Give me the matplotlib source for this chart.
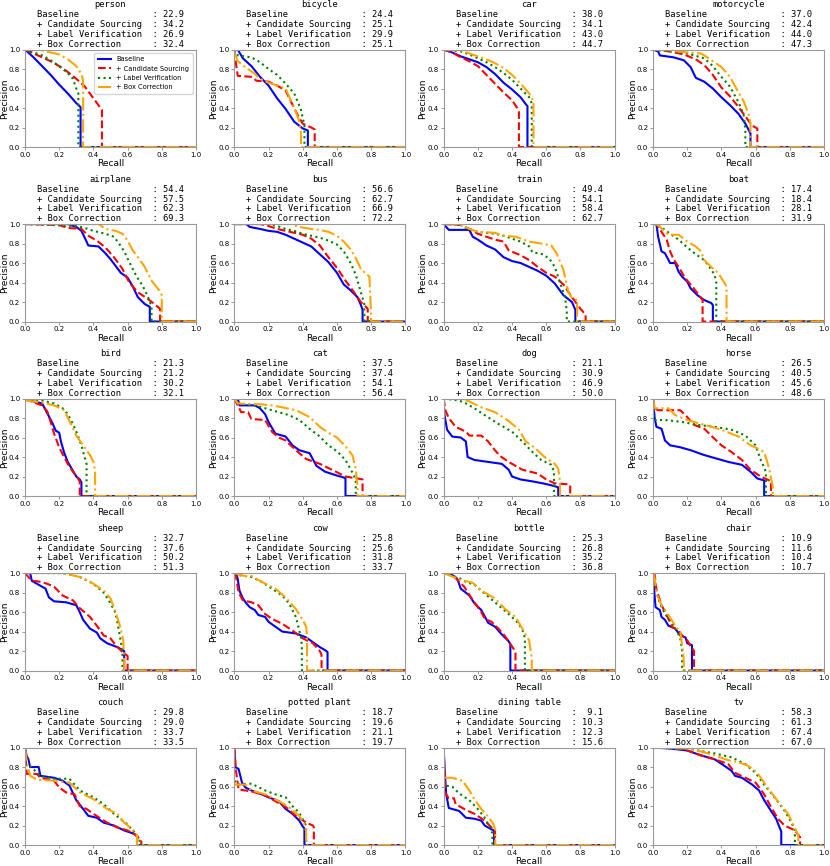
import matplotlib
matplotlib.use('Agg')
import matplotlib.pyplot as plt

# class names and AP scores
CLASSES = ['person', 'bicycle', 'car', 'motorcycle',
           'airplane', 'bus', 'train', 'boat',
           'bird', 'cat', 'dog', 'horse',
           'sheep', 'cow', 'bottle', 'chair',
           'couch', 'potted plant', 'dining table', 'tv']
METHODS = ['Baseline', '+ Candidate Sourcing', '+ Label Verification', '+ Box Correction']

AP_BASE = [22.9, 24.4, 38.0, 37.0, 54.4, 56.6, 49.4, 17.4, 21.3, 37.5,
           21.1, 26.5, 32.7, 25.8, 25.3, 10.9, 29.8, 18.7, 9.1, 58.3]
AP_CAND = [34.2, 25.1, 34.1, 42.4, 57.5, 62.7, 54.1, 18.4, 21.2, 37.4,
           30.9, 40.5, 37.6, 25.6, 26.8, 11.6, 29.0, 19.6, 10.3, 61.3]
AP_LABEL = [26.9, 29.9, 43.0, 44.0, 62.3, 66.9, 58.4, 28.1, 30.2, 54.1,
            46.9, 45.6, 50.2, 31.8, 35.2, 10.4, 33.7, 21.1, 12.3, 67.4]
AP_BOX = [32.4, 25.1, 44.7, 47.3, 69.3, 72.2, 62.7, 31.9, 32.1, 56.4,
          50.0, 48.6, 51.3, 33.7, 36.8, 10.7, 33.5, 19.7, 15.6, 67.0]

# PR curves (recall, precision), one list per class
BASE_R = [
    [0, 0.05, 0.1, 0.15, 0.2, 0.25, 0.3, 0.325],
    [0, 0.02, 0.05, 0.1, 0.15, 0.2, 0.25, 0.3, 0.35, 0.4, 0.43],
    [0, 0.05, 0.1, 0.15, 0.2, 0.25, 0.3, 0.35, 0.4, 0.45, 0.48, 0.49],
    [0, 0.03, 0.04, 0.12, 0.18, 0.22, 0.25, 0.3, 0.35, 0.4, 0.45, 0.5, 0.54, 0.57],
    [0, 0.25, 0.3, 0.33, 0.36, 0.37, 0.43, 0.47, 0.5, 0.53, 0.56, 0.6, 0.63, 0.66, 0.7, 0.73],
    [0, 0.07, 0.09, 0.15, 0.2, 0.25, 0.3, 0.35, 0.4, 0.45, 0.5, 0.55, 0.6, 0.64, 0.68, 0.72, 0.74, 0.75],
    [0, 0.03, 0.15, 0.17, 0.2, 0.25, 0.3, 0.35, 0.4, 0.45, 0.5, 0.55, 0.6, 0.65, 0.7, 0.75, 0.77],
    [0, 0.02, 0.03, 0.05, 0.07, 0.1, 0.13, 0.15, 0.17, 0.2, 0.22, 0.26, 0.3, 0.34, 0.35],
    [0, 0.05, 0.1, 0.13, 0.16, 0.18, 0.2, 0.21, 0.23, 0.25, 0.28, 0.3, 0.32, 0.33],
    [0, 0.02, 0.03, 0.12, 0.15, 0.18, 0.2, 0.24, 0.3, 0.34, 0.38, 0.44, 0.48, 0.53, 0.6, 0.64, 0.65],
    [0, 0.005, 0.02, 0.05, 0.1, 0.13, 0.14, 0.18, 0.26, 0.34, 0.38, 0.4, 0.45, 0.52, 0.58, 0.63, 0.67],
    [0, 0.01, 0.02, 0.05, 0.07, 0.1, 0.16, 0.22, 0.3, 0.36, 0.44, 0.52, 0.57, 0.61, 0.65],
    [0, 0.03, 0.04, 0.07, 0.1, 0.12, 0.14, 0.17, 0.24, 0.3, 0.32, 0.34, 0.38, 0.42, 0.44, 0.48, 0.54, 0.58],
    [0, 0.01, 0.02, 0.03, 0.05, 0.07, 0.09, 0.12, 0.14, 0.18, 0.2, 0.24, 0.28, 0.36, 0.42, 0.46, 0.5, 0.53, 0.545],
    [0, 0.05, 0.08, 0.1, 0.15, 0.18, 0.22, 0.26, 0.3, 0.34, 0.38, 0.39],
    [0, 0.005, 0.015, 0.04, 0.05, 0.07, 0.09, 0.13, 0.16, 0.19, 0.2, 0.228],
    [0, 0.01, 0.02, 0.03, 0.08, 0.09, 0.17, 0.22, 0.26, 0.3, 0.34, 0.37, 0.42, 0.46, 0.52, 0.58, 0.63, 0.655],
    [0, 0.005, 0.025, 0.045, 0.065, 0.1, 0.16, 0.2, 0.26, 0.3, 0.34, 0.38, 0.4, 0.41],
    [0, 0.005, 0.015, 0.03, 0.09, 0.13, 0.18, 0.22, 0.24, 0.28, 0.295],
    [0, 0.1, 0.2, 0.28, 0.36, 0.42, 0.46, 0.48, 0.52, 0.58, 0.62, 0.65, 0.69, 0.72, 0.74, 0.75],
]
BASE_P = [
    [1.0, 0.92, 0.83, 0.74, 0.64, 0.55, 0.45, 0.41],
    [1.0, 1.0, 0.91, 0.83, 0.72, 0.63, 0.5, 0.39, 0.26, 0.19, 0.17],
    [1.0, 0.97, 0.93, 0.9, 0.87, 0.82, 0.75, 0.66, 0.59, 0.51, 0.44, 0.42],
    [1.0, 0.98, 0.94, 0.92, 0.89, 0.82, 0.71, 0.67, 0.6, 0.51, 0.43, 0.34, 0.24, 0.14],
    [1.0, 1.0, 0.97, 0.93, 0.82, 0.78, 0.77, 0.7, 0.64, 0.57, 0.5, 0.45, 0.36, 0.25, 0.18, 0.15],
    [1.0, 1.0, 0.97, 0.95, 0.93, 0.92, 0.89, 0.85, 0.81, 0.77, 0.69, 0.61, 0.5, 0.38, 0.32, 0.25, 0.17, 0.12],
    [1.0, 0.94, 0.94, 0.87, 0.84, 0.78, 0.74, 0.66, 0.62, 0.6, 0.56, 0.52, 0.47, 0.39, 0.27, 0.2, 0.12],
    [1.0, 1.0, 0.87, 0.72, 0.7, 0.6, 0.6, 0.51, 0.46, 0.41, 0.34, 0.27, 0.22, 0.19, 0.17],
    [1.0, 0.97, 0.95, 0.85, 0.75, 0.67, 0.65, 0.56, 0.44, 0.35, 0.26, 0.2, 0.17, 0.14],
    [1.0, 1.0, 0.93, 0.93, 0.9, 0.84, 0.76, 0.64, 0.61, 0.52, 0.47, 0.44, 0.31, 0.25, 0.21, 0.19, 0.18],
    [0.97, 0.83, 0.68, 0.61, 0.6, 0.56, 0.4, 0.37, 0.35, 0.33, 0.27, 0.2, 0.17, 0.15, 0.13, 0.11, 0.09],
    [1.0, 0.8, 0.71, 0.69, 0.57, 0.52, 0.5, 0.47, 0.42, 0.39, 0.35, 0.32, 0.25, 0.18, 0.16],
    [1.0, 1.0, 0.92, 0.89, 0.86, 0.84, 0.75, 0.71, 0.7, 0.67, 0.6, 0.52, 0.43, 0.39, 0.33, 0.28, 0.24, 0.2],
    [1.0, 1.0, 0.94, 0.82, 0.74, 0.69, 0.65, 0.62, 0.57, 0.55, 0.5, 0.45, 0.4, 0.38, 0.34, 0.29, 0.24, 0.21, 0.19],
    [1.0, 0.98, 0.94, 0.84, 0.77, 0.69, 0.62, 0.49, 0.45, 0.37, 0.3, 0.27],
    [1.0, 0.86, 0.65, 0.62, 0.55, 0.52, 0.46, 0.43, 0.36, 0.34, 0.28, 0.26],
    [1.0, 0.91, 0.88, 0.8, 0.8, 0.71, 0.69, 0.66, 0.61, 0.46, 0.37, 0.3, 0.28, 0.23, 0.2, 0.15, 0.12, 0.1],
    [1.0, 0.8, 0.78, 0.64, 0.59, 0.56, 0.52, 0.49, 0.45, 0.37, 0.32, 0.25, 0.19, 0.17],
    [1.0, 0.8, 0.52, 0.38, 0.35, 0.28, 0.27, 0.25, 0.2, 0.16, 0.15],
    [1.0, 0.99, 0.97, 0.92, 0.88, 0.81, 0.76, 0.71, 0.69, 0.62, 0.56, 0.46, 0.35, 0.27, 0.18, 0.14],
]

CAND_R = [
    [0, 0.05, 0.1, 0.15, 0.2, 0.25, 0.3, 0.35, 0.4, 0.45],
    [0, 0.01, 0.02, 0.1, 0.13, 0.2, 0.25, 0.3, 0.33, 0.37, 0.4, 0.45, 0.47],
    [0, 0.05, 0.1, 0.15, 0.2, 0.25, 0.3, 0.35, 0.4, 0.43, 0.44],
    [0, 0.1, 0.18, 0.25, 0.3, 0.35, 0.4, 0.45, 0.5, 0.55, 0.58, 0.61],
    [0, 0.2, 0.25, 0.33, 0.37, 0.42, 0.47, 0.52, 0.57, 0.61, 0.66, 0.72, 0.77, 0.79],
    [0, 0.15, 0.2, 0.25, 0.3, 0.35, 0.4, 0.45, 0.5, 0.55, 0.6, 0.65, 0.7, 0.74, 0.77, 0.78],
    [0, 0.1, 0.15, 0.2, 0.25, 0.3, 0.35, 0.38, 0.45, 0.5, 0.55, 0.6, 0.65, 0.7, 0.75, 0.8, 0.83],
    [0, 0.02, 0.05, 0.08, 0.1, 0.12, 0.15, 0.18, 0.2, 0.23, 0.26, 0.29],
    [0, 0.05, 0.1, 0.13, 0.15, 0.17, 0.2, 0.22, 0.25, 0.28, 0.31, 0.32],
    [0, 0.02, 0.04, 0.08, 0.1, 0.18, 0.22, 0.26, 0.3, 0.36, 0.42, 0.5, 0.57, 0.65, 0.72, 0.75],
    [0, 0.01, 0.03, 0.07, 0.13, 0.15, 0.22, 0.26, 0.3, 0.33, 0.38, 0.46, 0.55, 0.6, 0.65, 0.73, 0.74],
    [0, 0.01, 0.03, 0.16, 0.2, 0.24, 0.3, 0.34, 0.4, 0.46, 0.52, 0.57, 0.63, 0.68, 0.69],
    [0, 0.03, 0.05, 0.09, 0.13, 0.17, 0.22, 0.28, 0.32, 0.38, 0.42, 0.46, 0.5, 0.53, 0.57, 0.6],
    [0, 0.01, 0.025, 0.05, 0.1, 0.14, 0.18, 0.22, 0.28, 0.34, 0.4, 0.46, 0.5, 0.51],
    [0, 0.05, 0.08, 0.12, 0.16, 0.2, 0.22, 0.24, 0.28, 0.32, 0.36, 0.41, 0.42],
    [0, 0.01, 0.02, 0.05, 0.08, 0.11, 0.15, 0.17, 0.2, 0.22, 0.24],
    [0, 0.01, 0.07, 0.09, 0.17, 0.2, 0.24, 0.29, 0.32, 0.36, 0.4, 0.48, 0.54, 0.6, 0.64, 0.68],
    [0, 0.01, 0.025, 0.1, 0.18, 0.24, 0.3, 0.36, 0.42, 0.46, 0.465],
    [0, 0.01, 0.03, 0.06, 0.07, 0.13, 0.18, 0.24, 0.28, 0.3],
    [0, 0.15, 0.2, 0.28, 0.36, 0.44, 0.48, 0.54, 0.6, 0.65, 0.69, 0.73, 0.77, 0.83, 0.86],
]
CAND_P = [
    [1.0, 0.96, 0.92, 0.88, 0.83, 0.77, 0.7, 0.62, 0.5, 0.38],
    [1.0, 0.85, 0.73, 0.72, 0.68, 0.67, 0.63, 0.58, 0.47, 0.33, 0.24, 0.2, 0.18],
    [1.0, 0.97, 0.92, 0.88, 0.83, 0.74, 0.65, 0.56, 0.48, 0.4, 0.36],
    [1.0, 0.98, 0.95, 0.9, 0.84, 0.74, 0.61, 0.52, 0.41, 0.29, 0.22, 0.19],
    [1.0, 0.99, 0.96, 0.95, 0.88, 0.83, 0.76, 0.66, 0.54, 0.4, 0.3, 0.23, 0.16, 0.13],
    [1.0, 1.0, 0.98, 0.95, 0.93, 0.91, 0.89, 0.85, 0.78, 0.66, 0.55, 0.42, 0.3, 0.2, 0.15, 0.13],
    [1.0, 0.99, 0.95, 0.9, 0.87, 0.84, 0.82, 0.73, 0.68, 0.63, 0.56, 0.5, 0.46, 0.38, 0.25, 0.13, 0.07],
    [1.0, 1.0, 0.92, 0.84, 0.72, 0.64, 0.56, 0.47, 0.42, 0.36, 0.29, 0.22],
    [1.0, 0.96, 0.93, 0.87, 0.76, 0.64, 0.5, 0.43, 0.33, 0.25, 0.18, 0.15],
    [1.0, 0.93, 0.86, 0.86, 0.79, 0.78, 0.66, 0.6, 0.57, 0.47, 0.38, 0.33, 0.27, 0.2, 0.18, 0.17],
    [1.0, 0.88, 0.8, 0.71, 0.66, 0.62, 0.62, 0.56, 0.47, 0.41, 0.35, 0.27, 0.23, 0.17, 0.13, 0.12, 0.11],
    [1.0, 0.9, 0.88, 0.88, 0.81, 0.73, 0.69, 0.62, 0.52, 0.45, 0.37, 0.27, 0.2, 0.16, 0.15],
    [1.0, 0.94, 0.92, 0.91, 0.89, 0.86, 0.77, 0.72, 0.64, 0.55, 0.46, 0.36, 0.33, 0.26, 0.19, 0.15],
    [1.0, 0.96, 0.8, 0.72, 0.7, 0.67, 0.58, 0.53, 0.48, 0.41, 0.33, 0.28, 0.2, 0.16],
    [1.0, 0.98, 0.93, 0.86, 0.75, 0.65, 0.6, 0.53, 0.5, 0.43, 0.35, 0.22, 0.18],
    [1.0, 0.98, 0.83, 0.67, 0.57, 0.45, 0.41, 0.36, 0.31, 0.25, 0.2],
    [1.0, 0.73, 0.73, 0.69, 0.66, 0.59, 0.54, 0.52, 0.4, 0.37, 0.32, 0.23, 0.18, 0.15, 0.11, 0.05],
    [1.0, 0.76, 0.57, 0.55, 0.51, 0.45, 0.39, 0.3, 0.23, 0.2, 0.18],
    [1.0, 0.53, 0.48, 0.48, 0.42, 0.36, 0.32, 0.25, 0.18, 0.15],
    [1.0, 0.99, 0.97, 0.92, 0.88, 0.83, 0.74, 0.69, 0.64, 0.52, 0.39, 0.27, 0.2, 0.15, 0.08],
]

LABEL_R = [
    [0, 0.05, 0.1, 0.15, 0.2, 0.25, 0.28, 0.3, 0.312],
    [0, 0.02, 0.1, 0.15, 0.2, 0.25, 0.3, 0.35, 0.39, 0.41],
    [0, 0.1, 0.15, 0.2, 0.25, 0.3, 0.35, 0.4, 0.45, 0.5, 0.515],
    [0, 0.1, 0.2, 0.3, 0.35, 0.4, 0.45, 0.5, 0.53, 0.54],
    [0, 0.3, 0.35, 0.4, 0.47, 0.52, 0.55, 0.58, 0.61, 0.65, 0.69, 0.72, 0.74],
    [0, 0.2, 0.25, 0.3, 0.35, 0.4, 0.45, 0.5, 0.55, 0.6, 0.64, 0.68, 0.71, 0.74, 0.76],
    [0, 0.09, 0.13, 0.2, 0.3, 0.35, 0.4, 0.45, 0.5, 0.52, 0.58, 0.62, 0.65, 0.68, 0.71, 0.72],
    [0, 0.02, 0.07, 0.1, 0.15, 0.2, 0.25, 0.3, 0.33, 0.36, 0.37],
    [0, 0.1, 0.17, 0.22, 0.25, 0.28, 0.3, 0.33, 0.35, 0.36],
    [0, 0.02, 0.12, 0.2, 0.26, 0.32, 0.38, 0.44, 0.5, 0.55, 0.6, 0.65, 0.7, 0.71],
    [0, 0.09, 0.13, 0.18, 0.24, 0.32, 0.4, 0.46, 0.52, 0.57, 0.63, 0.645],
    [0, 0.005, 0.07, 0.17, 0.26, 0.36, 0.46, 0.54, 0.6, 0.63, 0.66],
    [0, 0.2, 0.25, 0.32, 0.38, 0.42, 0.46, 0.5, 0.53, 0.55, 0.57],
    [0, 0.02, 0.1, 0.16, 0.22, 0.28, 0.32, 0.36, 0.39, 0.395],
    [0, 0.09, 0.13, 0.18, 0.24, 0.32, 0.38, 0.44, 0.47, 0.475],
    [0, 0.015, 0.04, 0.07, 0.11, 0.14, 0.16, 0.17],
    [0, 0.03, 0.09, 0.17, 0.26, 0.32, 0.4, 0.46, 0.52, 0.6, 0.65, 0.67],
    [0, 0.025, 0.1, 0.18, 0.24, 0.3, 0.34, 0.38, 0.41, 0.42],
    [0, 0.005, 0.05, 0.09, 0.15, 0.2, 0.24, 0.27, 0.285],
    [0, 0.2, 0.26, 0.36, 0.46, 0.54, 0.6, 0.65, 0.71, 0.77, 0.81, 0.83],
]
LABEL_P = [
    [1.0, 0.97, 0.94, 0.89, 0.83, 0.76, 0.7, 0.6, 0.55],
    [1.0, 0.94, 0.92, 0.87, 0.8, 0.74, 0.65, 0.55, 0.38, 0.22],
    [1.0, 0.98, 0.95, 0.91, 0.87, 0.82, 0.76, 0.69, 0.6, 0.51, 0.45],
    [1.0, 0.98, 0.96, 0.91, 0.83, 0.72, 0.62, 0.46, 0.33, 0.17],
    [1.0, 0.98, 0.96, 0.93, 0.9, 0.87, 0.8, 0.72, 0.61, 0.47, 0.36, 0.25, 0.15],
    [1.0, 1.0, 0.98, 0.95, 0.93, 0.9, 0.88, 0.86, 0.83, 0.79, 0.72, 0.6, 0.48, 0.3, 0.18],
    [1.0, 1.0, 0.96, 0.92, 0.9, 0.88, 0.85, 0.82, 0.77, 0.71, 0.69, 0.64, 0.56, 0.4, 0.25, 0.1],
    [1.0, 1.0, 0.94, 0.9, 0.84, 0.76, 0.69, 0.63, 0.56, 0.48, 0.4],
    [1.0, 0.98, 0.95, 0.9, 0.84, 0.74, 0.66, 0.52, 0.39, 0.33],
    [1.0, 0.95, 0.93, 0.89, 0.86, 0.83, 0.78, 0.69, 0.61, 0.52, 0.46, 0.37, 0.21, 0.15],
    [1.0, 0.98, 0.95, 0.9, 0.83, 0.74, 0.66, 0.56, 0.45, 0.37, 0.32, 0.25],
    [1.0, 0.78, 0.78, 0.76, 0.73, 0.71, 0.68, 0.62, 0.52, 0.37, 0.25],
    [1.0, 1.0, 0.99, 0.96, 0.91, 0.86, 0.8, 0.69, 0.59, 0.4, 0.2],
    [1.0, 0.98, 0.96, 0.91, 0.84, 0.77, 0.69, 0.55, 0.34, 0.25],
    [1.0, 0.95, 0.91, 0.88, 0.79, 0.67, 0.58, 0.48, 0.38, 0.3],
    [1.0, 0.84, 0.69, 0.58, 0.49, 0.41, 0.32, 0.22],
    [0.84, 0.81, 0.71, 0.68, 0.68, 0.56, 0.49, 0.42, 0.32, 0.21, 0.11, 0.06],
    [0.66, 0.62, 0.63, 0.56, 0.52, 0.49, 0.4, 0.33, 0.23, 0.2],
    [0.7, 0.61, 0.6, 0.53, 0.46, 0.37, 0.28, 0.18, 0.12],
    [1.0, 0.99, 0.97, 0.94, 0.9, 0.83, 0.74, 0.62, 0.49, 0.35, 0.23, 0.15],
]

BOX_R = [
    [0, 0.1, 0.15, 0.2, 0.25, 0.3, 0.33, 0.34],
    [0, 0.02, 0.05, 0.08, 0.12, 0.15, 0.2, 0.25, 0.3, 0.33, 0.36, 0.38, 0.39],
    [0, 0.1, 0.15, 0.2, 0.25, 0.3, 0.35, 0.4, 0.45, 0.5, 0.525],
    [0, 0.1, 0.2, 0.28, 0.3, 0.35, 0.4, 0.45, 0.5, 0.53, 0.56, 0.57],
    [0, 0.43, 0.47, 0.53, 0.57, 0.6, 0.63, 0.66, 0.7, 0.74, 0.78, 0.8],
    [0, 0.33, 0.38, 0.45, 0.5, 0.55, 0.6, 0.64, 0.68, 0.71, 0.74, 0.77, 0.79, 0.8],
    [0, 0.1, 0.15, 0.2, 0.3, 0.35, 0.42, 0.5, 0.57, 0.63, 0.66, 0.7, 0.73, 0.75, 0.78],
    [0, 0.02, 0.06, 0.09, 0.15, 0.2, 0.25, 0.28, 0.3, 0.34, 0.38, 0.42, 0.43],
    [0, 0.1, 0.17, 0.23, 0.26, 0.3, 0.34, 0.38, 0.4, 0.41],
    [0, 0.02, 0.16, 0.22, 0.28, 0.36, 0.44, 0.5, 0.55, 0.6, 0.65, 0.69, 0.71, 0.72],
    [0, 0.1, 0.15, 0.22, 0.3, 0.38, 0.44, 0.48, 0.53, 0.59, 0.65, 0.67, 0.68],
    [0, 0.01, 0.09, 0.13, 0.2, 0.3, 0.4, 0.5, 0.57, 0.61, 0.65, 0.68, 0.69, 0.7],
    [0, 0.2, 0.27, 0.32, 0.36, 0.4, 0.46, 0.5, 0.53, 0.56, 0.575, 0.58],
    [0, 0.06, 0.1, 0.16, 0.24, 0.3, 0.36, 0.4, 0.42, 0.425],
    [0, 0.1, 0.17, 0.22, 0.3, 0.36, 0.42, 0.46, 0.5, 0.515],
    [0, 0.01, 0.02, 0.05, 0.09, 0.13, 0.16, 0.175, 0.18],
    [0, 0.01, 0.03, 0.07, 0.17, 0.26, 0.32, 0.4, 0.48, 0.54, 0.58, 0.63, 0.655],
    [0, 0.065, 0.1, 0.18, 0.26, 0.32, 0.38, 0.41, 0.42],
    [0, 0.05, 0.11, 0.15, 0.18, 0.22, 0.26, 0.29, 0.302],
    [0, 0.2, 0.26, 0.36, 0.44, 0.5, 0.56, 0.61, 0.67, 0.73, 0.79, 0.82, 0.85],
]
BOX_P = [
    [1.0, 0.99, 0.97, 0.95, 0.9, 0.83, 0.75, 0.68],
    [0.97, 0.88, 0.84, 0.8, 0.75, 0.7, 0.66, 0.63, 0.6, 0.48, 0.36, 0.26, 0.15],
    [1.0, 0.99, 0.96, 0.93, 0.9, 0.86, 0.81, 0.74, 0.65, 0.55, 0.47],
    [1.0, 0.99, 0.97, 0.96, 0.94, 0.88, 0.82, 0.72, 0.56, 0.47, 0.33, 0.24],
    [1.0, 1.0, 0.95, 0.93, 0.9, 0.83, 0.73, 0.66, 0.56, 0.42, 0.33, 0.27],
    [1.0, 1.0, 0.97, 0.95, 0.94, 0.92, 0.88, 0.82, 0.74, 0.65, 0.54, 0.49, 0.46, 0.05],
    [1.0, 0.99, 0.95, 0.92, 0.91, 0.88, 0.87, 0.82, 0.8, 0.78, 0.7, 0.53, 0.3, 0.24, 0.22],
    [1.0, 1.0, 0.94, 0.89, 0.89, 0.82, 0.77, 0.72, 0.63, 0.56, 0.5, 0.39, 0.36],
    [0.98, 0.96, 0.93, 0.88, 0.77, 0.62, 0.52, 0.42, 0.35, 0.25],
    [1.0, 0.95, 0.94, 0.93, 0.91, 0.88, 0.81, 0.71, 0.65, 0.6, 0.51, 0.42, 0.28, 0.1],
    [1.0, 1.0, 0.97, 0.91, 0.86, 0.77, 0.68, 0.56, 0.5, 0.4, 0.33, 0.28, 0.15],
    [1.0, 0.9, 0.9, 0.83, 0.78, 0.73, 0.68, 0.61, 0.52, 0.49, 0.45, 0.28, 0.18, 0.1],
    [1.0, 1.0, 0.98, 0.96, 0.93, 0.89, 0.82, 0.74, 0.6, 0.43, 0.3, 0.1],
    [1.0, 0.97, 0.97, 0.91, 0.84, 0.75, 0.63, 0.52, 0.45, 0.35],
    [1.0, 0.93, 0.9, 0.82, 0.74, 0.63, 0.55, 0.43, 0.31, 0.12],
    [1.0, 0.95, 0.79, 0.67, 0.57, 0.46, 0.39, 0.2, 0.1],
    [1.0, 0.86, 0.71, 0.67, 0.66, 0.64, 0.54, 0.47, 0.37, 0.32, 0.23, 0.16, 0.1],
    [0.62, 0.62, 0.56, 0.52, 0.45, 0.39, 0.3, 0.21, 0.14],
    [0.69, 0.69, 0.66, 0.56, 0.47, 0.37, 0.29, 0.22, 0.15],
    [1.0, 0.99, 0.97, 0.92, 0.87, 0.85, 0.81, 0.74, 0.59, 0.45, 0.32, 0.21, 0.1],
]

STYLES = [('blue', '-'), ('red', '--'), ('green', ':'), ('orange', '-.')]

fig, axes = plt.subplots(5, 4, figsize=(8.3, 8.66), dpi=100)
fig.subplots_adjust(left=0.0301, right=0.9928, top=0.9428, bottom=0.0242,
                    wspace=0.224, hspace=0.79)

for i, name in enumerate(CLASSES):
    ax = axes.flat[i]
    curves = [(BASE_R[i], BASE_P[i]), (CAND_R[i], CAND_P[i]),
              (LABEL_R[i], LABEL_P[i]), (BOX_R[i], BOX_P[i])]
    for (r, p), (col, ls), lab in zip(curves, STYLES, METHODS):
        # precision falls to zero past the last recall reached
        rr = list(r) + [r[-1], 1.0]
        pp = list(p) + [0.0, 0.0]
        ax.plot(rr, pp, color=col, linestyle=ls, linewidth=1.5, label=lab)
    aps = [AP_BASE[i], AP_CAND[i], AP_LABEL[i], AP_BOX[i]]
    lines = [name] + ['%-22s: %4.1f' % (m, v) for m, v in zip(METHODS, aps)]
    ax.set_title('\n'.join(lines), family='DejaVu Sans Mono', fontsize=6.3,
                 pad=2, linespacing=1.12)
    ax.set_xlim(0, 1)
    ax.set_ylim(0, 1)
    ax.set_xticks([0, 0.2, 0.4, 0.6, 0.8, 1.0])
    ax.set_yticks([0, 0.2, 0.4, 0.6, 0.8, 1.0])
    ax.tick_params(labelsize=5, length=2, width=0.6, color='#888888', pad=1.5)
    ax.set_xlabel('Recall', fontsize=6.5, labelpad=1)
    ax.set_ylabel('Precision', fontsize=6.5)
    ax.yaxis.set_label_coords(-0.094, 0.5)
    for s in ax.spines.values():
        s.set_edgecolor('#999999')
        s.set_linewidth(0.8)
    if i == 0:
        ax.legend(loc='upper right', fontsize=4.8, handlelength=2.0,
                  borderpad=0.5, labelspacing=0.5)

fig.savefig('out.png', dpi=100)
